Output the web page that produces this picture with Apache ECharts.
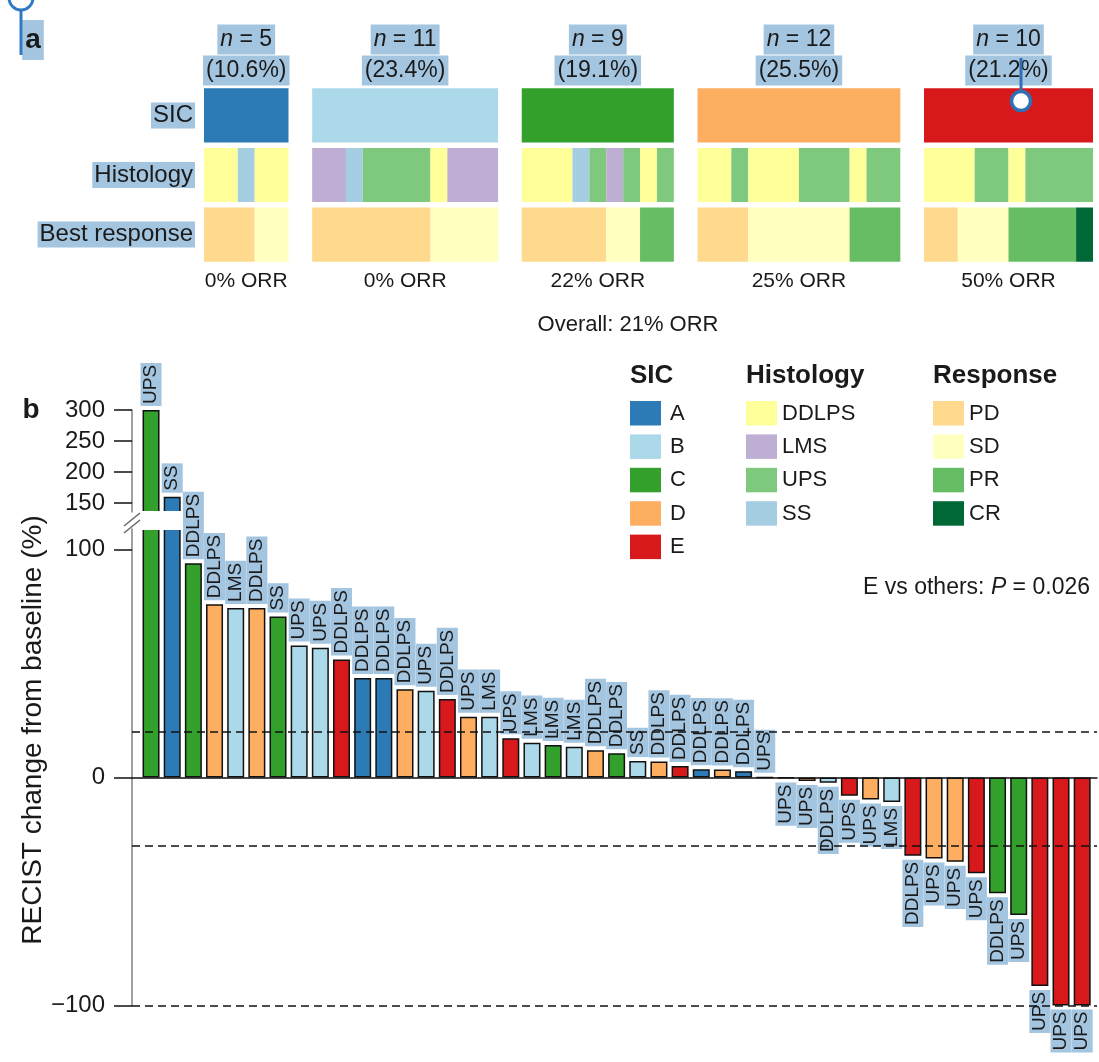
<!DOCTYPE html>
<html>
<head>
<meta charset="utf-8">
<script src="https://cdn.jsdelivr.net/npm/echarts@6.0.0/dist/echarts.min.js"></script>
<style>
html, body { margin: 0; padding: 0; background: #fff; }
#main { width: 1099px; height: 1062px; }
</style>
</head>
<body>
<div id="main"></div>
<script>
// ---- panel a: SIC groups ----
var sicNames = ['A', 'B', 'C', 'D', 'E'];
var groupN = [5, 11, 9, 12, 10];
var groupPct = ['10.6', '23.4', '19.1', '25.5', '21.2'];
var groupOrr = [0, 0, 22, 25, 50];
var overallOrr = 21;
var rowNames = ['SIC', 'Histology', 'Best response'];
var histologyRuns = [
    [['DDLPS', 2], ['SS', 1], ['DDLPS', 2]],
    [['LMS', 2], ['SS', 1], ['UPS', 4], ['DDLPS', 1], ['LMS', 3]],
    [['DDLPS', 3], ['SS', 1], ['UPS', 1], ['LMS', 1], ['UPS', 1], ['DDLPS', 1], ['UPS', 1]],
    [['DDLPS', 2], ['UPS', 1], ['DDLPS', 3], ['UPS', 3], ['DDLPS', 1], ['UPS', 2]],
    [['DDLPS', 3], ['UPS', 2], ['DDLPS', 1], ['UPS', 4]]
];
var responseRuns = [
    [['PD', 3], ['SD', 2]],
    [['PD', 7], ['SD', 4]],
    [['PD', 5], ['SD', 2], ['PR', 2]],
    [['PD', 3], ['SD', 6], ['PR', 3]],
    [['PD', 2], ['SD', 3], ['PR', 4], ['CR', 1]]
];

// ---- panel b: waterfall (one bar per patient) ----
var barChange = [300, 160, 94, 76, 74.4, 74.4, 70.6, 57.9, 56.9, 51.8, 43.7, 43.7, 38.7, 38, 34.4,
    26.7, 26.7, 17.2, 15.3, 14.3, 13.5, 12, 10.6, 7.2, 7, 5, 3.6, 3.5, 2.8, 0,
    -0.3, -1.5, -2.3, -8, -9.6, -10.7, -34.3, -35.5, -37, -42, -50.8, -60.3, -91.4, -100, -100];
var barSic = ['C', 'A', 'C', 'D', 'B', 'D', 'C', 'B', 'B', 'E', 'A', 'A', 'D', 'B', 'E',
    'D', 'B', 'E', 'B', 'C', 'B', 'D', 'C', 'B', 'D', 'E', 'A', 'D', 'A', 'B',
    'C', 'D', 'B', 'E', 'D', 'B', 'E', 'D', 'D', 'E', 'C', 'C', 'E', 'E', 'E'];
var barHistology = ['UPS', 'SS', 'DDLPS', 'DDLPS', 'LMS', 'DDLPS', 'SS', 'UPS', 'UPS', 'DDLPS', 'DDLPS', 'DDLPS', 'DDLPS', 'UPS', 'DDLPS',
    'UPS', 'LMS', 'UPS', 'LMS', 'LMS', 'LMS', 'DDLPS', 'DDLPS', 'SS', 'DDLPS', 'DDLPS', 'DDLPS', 'DDLPS', 'DDLPS', 'UPS',
    'UPS', 'UPS', 'DDLPS', 'UPS', 'UPS', 'LMS', 'DDLPS', 'UPS', 'UPS', 'UPS', 'DDLPS', 'UPS', 'UPS', 'UPS', 'UPS'];
var thresholds = [20, -30, -100];
var lowerTicks = [-100, 0, 100];
var upperTicks = [150, 200, 250, 300];
var pValue = '0.026';

var sicColors = { A: '#2c7bb6', B: '#abd9e9', C: '#33a02c', D: '#fdae61', E: '#d7191c' };
var histColors = { DDLPS: '#ffff99', LMS: '#beaed4', UPS: '#7fc97f', SS: '#a6cee3' };
var respColors = { PD: '#fed98e', SD: '#ffffbf', PR: '#66bd63', CR: '#006837' };

var hl = '#a4c5e0';
var ink = '#1a1a1a';
var ff = '"Liberation Sans", Arial, sans-serif';
var gapUnits = 1.4;
var breakLow = 109, breakHigh = 135.3;

// panel a rectangles, built from the runs
var segData = [], annData = [];
var start = 0;
groupN.forEach(function (n, g) {
    segData.push({ value: [start, start + n, 0], itemStyle: { color: sicColors[sicNames[g]] } });
    [histologyRuns, responseRuns].forEach(function (runs, r) {
        var x = start;
        runs[g].forEach(function (run) {
            var col = r === 0 ? histColors[run[0]] : respColors[run[0]];
            segData.push({ value: [x, x + run[1], r + 1], itemStyle: { color: col } });
            x += run[1];
        });
    });
    annData.push([start + n / 2, g]);
    start += n + gapUnits;
});
var totalUnits = start - gapUnits;

function txt(x, y, text, size, extra) {
    var st = { text: text, x: 0, y: 0, fill: ink, font: size + 'px ' + ff,
        align: 'center', textAlign: 'center', verticalAlign: 'middle', textVerticalAlign: 'middle' };
    for (var k in extra) st[k] = extra[k];
    if (st.align) st.textAlign = st.align;
    return { type: 'text', x: x, y: y, style: st };
}

var lowerData = [], upperData = [];
barChange.forEach(function (v, i) {
    var up = v >= 0;
    lowerData.push({
        name: barHistology[i], value: [i, v], itemStyle: { color: sicColors[barSic[i]] },
        label: { show: v <= breakLow, position: up ? 'top' : 'bottom', align: up ? 'left' : 'right' }
    });
    if (v > breakLow) {
        upperData.push({ name: barHistology[i], value: [i, v], itemStyle: { color: sicColors[barSic[i]] } });
    }
});

var barLabel = {
    show: true, rotate: 90, position: 'top', align: 'left', verticalAlign: 'middle',
    distance: 4, formatter: '{b}', fontSize: 19, lineHeight: 20, fontFamily: ff, color: ink,
    backgroundColor: hl, padding: [1, 2, 0, 2]
};
var barItem = { borderColor: '#111', borderWidth: 1.5 };

// legend + free text
var graphics = [];
var legendCols = [
    { title: 'SIC', x: 630, tx: 40, keys: sicNames, colors: sicColors },
    { title: 'Histology', x: 746, tx: 36, keys: ['DDLPS', 'LMS', 'UPS', 'SS'], colors: histColors },
    { title: 'Response', x: 933, tx: 36, keys: ['PD', 'SD', 'PR', 'CR'], colors: respColors }
];
legendCols.forEach(function (c) {
    graphics.push(txt(c.x, 376, c.title, 26, { align: 'left', font: 'bold 26px ' + ff }));
    c.keys.forEach(function (k, j) {
        var y = 401 + j * 33.4;
        graphics.push({ type: 'rect', shape: { x: c.x, y: y, width: 31, height: 24.5 }, style: { fill: c.colors[k] } });
        graphics.push(txt(c.x + c.tx, y + 12.5, k, 22, { align: 'left' }));
    });
});
graphics.push(txt(1090, 588, 'E vs others: {i|P} = ' + pValue, 23, {
    align: 'right', rich: { i: { fontStyle: 'italic', fontSize: 23, fontFamily: ff, fill: ink } }
}));
graphics.push(txt(628, 325, 'Overall: ' + overallOrr + '% ORR', 22, {}));
graphics.push(txt(33, 40, 'a', 28, { font: 'bold 28px ' + ff, backgroundColor: hl, padding: [8, 3, 4, 3] }));
graphics.push(txt(31, 410, 'b', 28, { font: 'bold 28px ' + ff }));
var yName = txt(33, 730, 'RECIST change from baseline (%)', 28, {});
yName.rotation = Math.PI / 2;
graphics.push(yName);
// axis break
graphics.push({ type: 'rect', z: 100, shape: { x: 139, y: 511, width: 44, height: 19 }, style: { fill: '#fff' } });
graphics.push({ type: 'line', z: 100, shape: { x1: 124, y1: 526, x2: 140, y2: 513 }, style: { stroke: '#666', lineWidth: 1.5 } });
graphics.push({ type: 'line', z: 100, shape: { x1: 124, y1: 533, x2: 140, y2: 520 }, style: { stroke: '#666', lineWidth: 1.5 } });
// annotation pins seen on the figure
graphics.push({ type: 'circle', z: 100, shape: { cx: 21, cy: -2, r: 12 }, style: { fill: 'none', stroke: '#2f7ac4', lineWidth: 3 } });
graphics.push({ type: 'line', z: 100, shape: { x1: 21, y1: 10, x2: 21, y2: 55 }, style: { stroke: '#2f7ac4', lineWidth: 3 } });
graphics.push({ type: 'line', z: 100, shape: { x1: 1021, y1: 58, x2: 1021, y2: 92 }, style: { stroke: '#2f6fb5', lineWidth: 3 } });
graphics.push({ type: 'circle', z: 100, shape: { cx: 1021, cy: 101, r: 9.5 }, style: { fill: '#fff', stroke: '#2f6fb5', lineWidth: 3.5 } });

var yAxisCommon = {
    type: 'value',
    axisLine: { show: true, onZero: false, lineStyle: { color: '#808080', width: 1.5 } },
    axisTick: { show: true, length: 18, lineStyle: { color: '#111', width: 1.5 } },
    axisLabel: { margin: 27, fontSize: 24, fontFamily: ff, color: ink,
        formatter: function (v) { return v < 0 ? '\u2212' + Math.abs(v) : String(v); } },
    splitLine: { show: false }
};
function yAxisFor(grid, min, max, ticks) {
    var a = JSON.parse(JSON.stringify(yAxisCommon));
    a.axisLabel.formatter = yAxisCommon.axisLabel.formatter;
    a.gridIndex = grid; a.min = min; a.max = max;
    a.axisTick.customValues = ticks;
    a.axisLabel.customValues = ticks;
    return a;
}

var option = {
    animation: false,
    backgroundColor: '#fff',
    textStyle: { fontFamily: ff },
    grid: [
        { left: 204, right: 6, top: 85.6, height: 178.8 },
        { left: 132, right: 2, top: 529, height: 476.5 },
        { left: 132, right: 2, top: 410, height: 102 }
    ],
    xAxis: [
        { gridIndex: 0, type: 'value', min: 0, max: totalUnits, show: false },
        { gridIndex: 1, type: 'value', min: -0.9, max: 44.7,
          axisLine: { onZero: true, lineStyle: { color: '#111', width: 1.5 } },
          axisTick: { show: false }, axisLabel: { show: false }, splitLine: { show: false } },
        { gridIndex: 2, type: 'value', min: -0.9, max: 44.7, show: false, splitLine: { show: false } }
    ],
    yAxis: [
        { gridIndex: 0, type: 'category', data: rowNames, inverse: true,
          axisLine: { show: false }, axisTick: { show: false },
          axisLabel: { fontSize: 24, fontFamily: ff, color: ink, margin: 9, backgroundColor: hl, padding: [2, 2, 0, 2] } },
        yAxisFor(1, -100, breakLow, lowerTicks),
        yAxisFor(2, breakHigh, 300, upperTicks)
    ],
    series: [
        {
            type: 'custom', xAxisIndex: 0, yAxisIndex: 0, data: segData,
            encode: { x: [0, 1], y: 2 },
            renderItem: function (params, api) {
                var p0 = api.coord([api.value(0), api.value(2)]);
                var p1 = api.coord([api.value(1), api.value(2)]);
                var h = api.size([0, 1])[1] * 0.91;
                return { type: 'rect', shape: { x: p0[0], y: p0[1] - h / 2, width: p1[0] - p0[0], height: h },
                    style: { fill: api.visual('color') } };
            }
        },
        {
            type: 'custom', xAxisIndex: 0, yAxisIndex: 0, data: annData,
            encode: { x: 0 },
            renderItem: function (params, api) {
                var g = params.dataIndex;
                var top = api.coord([api.value(0), 0]);
                var bot = api.coord([api.value(0), 2]);
                return { type: 'group', children: [
                    txt(top[0], top[1] - 76, '{i|n} = ' + groupN[g], 23, { backgroundColor: hl, padding: [4, 3, 3, 3],
                        rich: { i: { fontStyle: 'italic', fontSize: 23, fontFamily: ff, fill: ink } } }),
                    txt(top[0], top[1] - 45, '(' + groupPct[g] + '%)', 23, { backgroundColor: hl, padding: [4, 3, 3, 3] }),
                    txt(bot[0], bot[1] + 47, groupOrr[g] + '% ORR', 21, {})
                ] };
            }
        },
        {
            type: 'bar', xAxisIndex: 1, yAxisIndex: 1, barWidth: 17, data: lowerData,
            itemStyle: barItem, label: barLabel,
            markLine: {
                silent: true, symbol: 'none', label: { show: false },
                lineStyle: { type: [8, 5], color: '#111', width: 1.5 },
                data: thresholds.map(function (t) { return { yAxis: t }; })
            }
        },
        {
            type: 'bar', xAxisIndex: 2, yAxisIndex: 2, barWidth: 17, data: upperData,
            itemStyle: barItem, label: barLabel
        }
    ],
    graphic: { elements: graphics }
};

var chart = echarts.init(document.getElementById('main'));
chart.setOption(option);
</script>
</body>
</html>
